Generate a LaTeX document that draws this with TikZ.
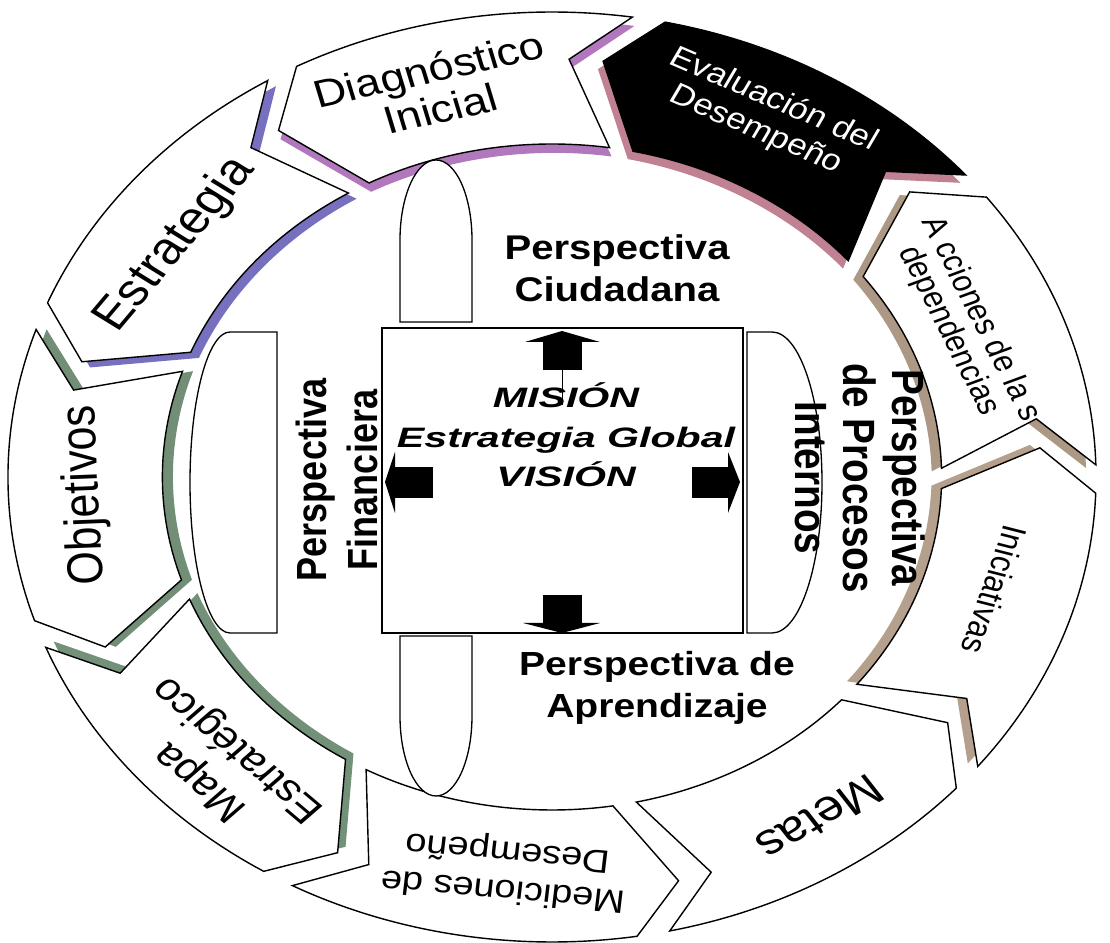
\documentclass[tikz,border=0pt]{standalone}
\usepackage{fontspec}
\setmainfont{Liberation Sans}
\definecolor{shEst}{RGB}{118,112,190}
\definecolor{shDia}{RGB}{178,120,190}
\definecolor{shEva}{RGB}{192,130,146}
\definecolor{shAcc}{RGB}{172,152,132}
\definecolor{shIni}{RGB}{180,160,140}
\definecolor{shObj}{RGB}{115,142,118}
\definecolor{shMap}{RGB}{115,145,120}
\newcommand{\segpath}[2]{({#1+0.5}:465) arc[start angle={#1+0.5}, end angle={#2-3}, radius=465] -- ({#2+3}:418) -- ({#2-3}:333) arc[start angle={#2-3}, end angle={#1+0.5}, radius=333] -- ({#1+7}:418) -- cycle}
\tikzset{
  seg/.style={draw=black, line width=0.8pt, fill=white, line join=miter},
  ringtxt/.style={transform shape, align=center, inner sep=0pt},
  persp/.style={transform shape, align=center, inner sep=0pt},
  inshape/.style={draw=black, line width=0.75pt, fill=white},
  blockarrow/.style={fill=black},
}
\begin{document}
\begin{tikzpicture}[x=0.02cm, y=0.02cm]
\useasboundingbox (0,0) rectangle (1110,943);
\fill[white] (0,0) rectangle (1110,943);
% ---------------- ring of chevron segments
\begin{scope}[shift={(552,466)}, xscale=1.17]
  \foreach \s/\e/\c in {-39/1/shIni, 1/40/shAcc, 40/81/shEva, 81/121/shDia, 121/161/shEst, 161/201/shObj, 201/241/shMap}{
    \pgfmathsetmacro{\m}{(\s+\e)/2+180}
    \fill[\c, shift={(\m:9)}] \segpath{\s}{\e};
  }
  \foreach \s/\e in {-39/1, 1/40, 81/121, 121/161, 161/201, 201/241, 241/282, 282/321}{
    \path[seg] \segpath{\s}{\e};
  }
  \path[seg, fill=black] \segpath{40}{81};
  % texts
  \node[ringtxt, font=\fontsize{22}{23}\selectfont, rotate=14.5] (tDia) at (104.5:401) {Diagnóstico\\Inicial};
  \node[ringtxt, text=white, font=\fontsize{17}{19}\selectfont, rotate=-26.7] (tEva) at (63.3:405) {Evaluación del\\Desempeño};
  \node[ringtxt, font=\fontsize{16.5}{17}\selectfont, rotate=-66.7] (tAcc) at (23.3:384) {A cciones de la s\\dependencias};
  \node[ringtxt, font=\fontsize{17}{19}\selectfont, rotate=-106.6] (tIni) at (-16.6:395) {Iniciativas};
  \node[ringtxt, font=\fontsize{25}{27}\selectfont, rotate=-146.1] (tMet) at (-56.1:411) {Metas};
  \node[ringtxt, font=\fontsize{18.5}{22}\selectfont, rotate=174.2] (tMed) at (264.2:395) {Mediciones de\\Desempeño};
  \node[ringtxt, font=\fontsize{21.5}{26}\selectfont, rotate=135.4] (tMap) at (225.4:404) {Mapa\\Estratégico};
  \node[ringtxt, font=\fontsize{24.5}{26}\selectfont, rotate=92.6] (tObj) at (182.6:399) {Objetivos};
  \node[ringtxt, font=\fontsize{25.5}{27}\selectfont, rotate=54.2] (tEst) at (144.2:397) {Estrategia};
\end{scope}
% ---------------- inner shapes
\path[inshape] (400,621) -- (400,703) arc[start angle=180, end angle=0, x radius=36, y radius=80] -- (472,621) -- cycle;
\path[inshape] (400,307) -- (400,227) arc[start angle=180, end angle=360, x radius=36, y radius=80] -- (472,307) -- cycle;
\path[inshape] (277,611) -- (230,611) arc[start angle=90, end angle=270, x radius=40, y radius=150.5] -- (277,310) -- cycle;
\path[inshape] (747,611) -- (772,611) arc[start angle=90, end angle=-90, x radius=50, y radius=150.5] -- (747,310) -- cycle;
\draw[line width=1.1pt, fill=white] (382,615) rectangle (743,310);
% block arrows
\fill[blockarrow] (543,573) rectangle (582,601);
\fill[blockarrow] (525,601) -- (600,601) -- (562,612) -- cycle;
\draw[line width=0.5pt] (562,573) -- (562,538);
\fill[blockarrow] (543,320) rectangle (582,348);
\fill[blockarrow] (523,320) -- (600,320) -- (562,310) -- cycle;
\fill[blockarrow] (395,445) rectangle (433,476);
\fill[blockarrow] (395,491) -- (395,430) -- (385,461) -- cycle;
\fill[blockarrow] (692,445) rectangle (728,476);
\fill[blockarrow] (728,491) -- (728,430) -- (740,461) -- cycle;
% ---------------- central texts
\begin{scope}[shift={(552,466)}, xscale=1.17]
  \node[persp, font=\fontsize{19.5}{24}\selectfont\bfseries] (tCiu) at (55.6,209) {Perspectiva\\Ciudadana};
  \node[persp, font=\fontsize{19}{24}\selectfont\bfseries] (tApr) at (89.7,-211) {Perspectiva de\\Aprendizaje};
  \node[persp, font=\fontsize{20.5}{24.5}\selectfont\bfseries, rotate=90] (tFin) at (-183.8,-3) {Perspectiva\\Financiera};
  \node[persp, font=\fontsize{22}{23.5}\selectfont\bfseries, rotate=-90] (tPro) at (263.2,-1) {Perspectiva\\de Procesos\\Internos};
  \node[persp, xscale=1.25, font=\fontsize{16}{22.5}\selectfont\bfseries\itshape] (tMis) at (12,42) {MISIÓN\\Estrategia Global\\VISIÓN};
\end{scope}
\end{tikzpicture}
\end{document}
